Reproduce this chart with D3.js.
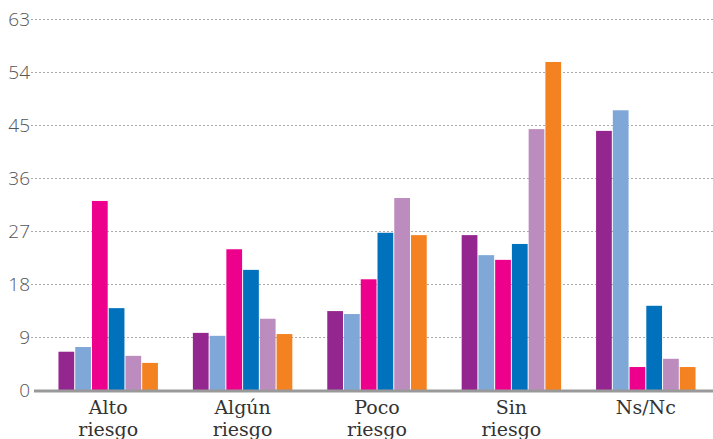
<!DOCTYPE html>
<html><head><meta charset="utf-8">
<script src="https://cdn.jsdelivr.net/npm/d3@7"></script>
<style>body{margin:0;background:#fff}</style>
</head><body>
<svg id="c" width="713" height="439"></svg>
<script>
const categories = [["Alto","riesgo"],["Algún","riesgo"],["Poco","riesgo"],["Sin","riesgo"],["Ns/Nc"]];
const seriesNames = ["s1","s2","s3","s4","s5","s6"];
const seriesColors = ["#93278f","#7fa8d8","#ec008c","#0071bc","#bd8cbf","#f58220"];
const values = [
  [6.5, 7.3, 32.1, 13.9, 5.8, 4.6],
  [9.7, 9.2, 23.9, 20.4, 12.1, 9.5],
  [13.4, 12.9, 18.8, 26.7, 32.6, 26.3],
  [26.3, 22.9, 22.1, 24.8, 44.3, 55.7],
  [44.0, 47.5, 3.9, 14.3, 5.3, 3.9]
];
const yTicks = [0, 9, 18, 27, 36, 45, 54, 63];

const svg = d3.select("#c");
const y = d3.scaleLinear().domain([0, 63]).range([390, 19]);
const x0 = d3.scaleBand().domain(d3.range(categories.length)).range([41, 713]).paddingInner(0.26).paddingOuter(0.13);
const x1 = d3.scaleBand().domain(seriesNames).range([0, x0.bandwidth()]).paddingInner(0.06);

// y axis labels
const yAxis = d3.axisLeft(y).tickValues(yTicks).tickSize(0).tickPadding(0);
const ga = svg.append("g").attr("transform", "translate(30,0)").call(yAxis);
ga.select(".domain").remove();
ga.selectAll("text").attr("font-family", "'Open Sans', sans-serif").attr("font-size", 19).attr("fill", "#555").attr("font-weight", 300).attr("dy", "0.35em");

// grid
svg.append("g").selectAll("line").data(yTicks.filter(d => d > 0)).join("line")
  .attr("x1", 31).attr("x2", 713).attr("y1", d => Math.round(y(d)) + 0.5).attr("y2", d => Math.round(y(d)) + 0.5)
  .attr("stroke", "#aaa").attr("stroke-width", 1).attr("stroke-dasharray", "2,2");

// bars
const groups = svg.append("g").selectAll("g").data(values).join("g")
  .attr("transform", (d, i) => `translate(${x0(i)},0)`);
groups.selectAll("rect").data(d => d.map((v, j) => ({v, j}))).join("rect")
  .attr("x", d => x1(seriesNames[d.j]))
  .attr("width", x1.bandwidth())
  .attr("y", d => y(d.v))
  .attr("height", d => y(0) - y(d.v))
  .attr("fill", d => seriesColors[d.j]);

// baseline
svg.append("line").attr("x1", 34).attr("x2", 713).attr("y1", 391).attr("y2", 391)
  .attr("stroke", "#999").attr("stroke-width", 3);

// category labels
const lab = svg.append("g").selectAll("text").data(categories).join("text")
  .attr("x", (d, i) => x0(i) + x0.bandwidth() / 2)
  .attr("y", 414)
  .attr("text-anchor", "middle")
  .attr("font-family", "'DejaVu Serif', serif")
  .attr("font-size", 19)
  .attr("fill", "#333");
lab.selectAll("tspan").data(d => d).join("tspan")
  .attr("x", function() { return this.parentNode.getAttribute("x"); })
  .attr("dy", (d, i) => i === 0 ? 0 : 22)
  .text(d => d);
</script>
</body></html>
